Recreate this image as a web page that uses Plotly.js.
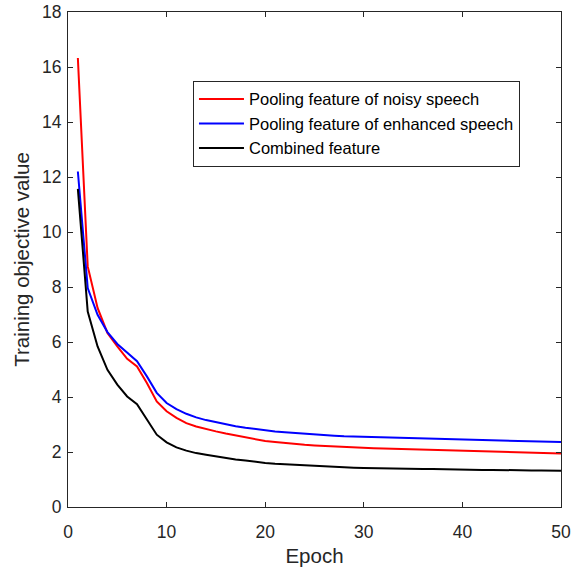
<!DOCTYPE html>
<html><head><meta charset="utf-8">
<script src="https://cdn.plot.ly/plotly-3.0.1.min.js"></script>
<style>body{margin:0;}#chart{width:572px;height:568px;}</style>
</head><body><div id="chart"></div>
<script>
const epochs = Array.from({length:50},(_,i)=>i+1);
const noisy = [16.33,8.75,7.24,6.33,5.84,5.39,5.11,4.51,3.84,3.48,3.24,3.05,2.93,2.83,2.75,2.67,2.60,2.53,2.46,2.40,2.36,2.32,2.29,2.26,2.24,2.22,2.20,2.19,2.17,2.16,2.14,2.13,2.12,2.11,2.09,2.08,2.07,2.05,2.04,2.03,2.02,2.01,2.00,1.99,1.98,1.98,1.97,1.96,1.96,1.95];
const enhanced = [12.2,7.96,6.99,6.36,5.93,5.6,5.3,4.75,4.15,3.78,3.56,3.39,3.26,3.16,3.08,3.01,2.94,2.88,2.83,2.79,2.75,2.72,2.69,2.66,2.63,2.61,2.59,2.57,2.56,2.55,2.53,2.52,2.51,2.50,2.49,2.48,2.47,2.46,2.45,2.44,2.43,2.42,2.41,2.40,2.40,2.39,2.38,2.37,2.37,2.36];
const combined = [11.57,7.11,5.84,4.99,4.45,4.02,3.74,3.17,2.63,2.35,2.17,2.05,1.96,1.90,1.84,1.78,1.73,1.69,1.64,1.60,1.57,1.55,1.53,1.51,1.49,1.47,1.46,1.44,1.43,1.42,1.41,1.40,1.40,1.39,1.39,1.38,1.38,1.37,1.37,1.36,1.36,1.35,1.35,1.34,1.34,1.34,1.33,1.33,1.32,1.32];
const names = ['Pooling feature of noisy speech','Pooling feature of enhanced speech','Combined feature'];
const colors = ['#ff0000','#0000ff','#000000'];
const series = [noisy, enhanced, combined];
const traces = series.map((s,i)=>({x:epochs,y:s,type:'scatter',mode:'lines',name:names[i],line:{color:colors[i],width:2}}));
const axcol = '#262626';
const layout = {
  width:572,height:568,
  margin:{l:68,r:11,t:12,b:61},
  paper_bgcolor:'#fff',plot_bgcolor:'#fff',
  font:{family:'Liberation Sans, Arial, sans-serif',color:axcol,size:17.5},
  showlegend:true,
  legend:{x:0.2535,y:0.861,xanchor:'left',yanchor:'top',bgcolor:'#fff',bordercolor:axcol,borderwidth:1,itemwidth:45,font:{size:16.5,color:'#000'},tracegroupgap:0},
  xaxis:{range:[0,50],tickvals:[0,10,20,30,40,50],ticks:'inside',ticklen:5,tickcolor:axcol,showline:true,linecolor:axcol,linewidth:1,mirror:'ticks',showgrid:false,zeroline:false,automargin:false,
    ticklabelstandoff:9,
    title:{text:'Epoch',font:{size:20.5},standoff:7},tickfont:{size:17.5}},
  yaxis:{range:[0,18],tickvals:[0,2,4,6,8,10,12,14,16,18],ticks:'inside',ticklen:5,tickcolor:axcol,showline:true,linecolor:axcol,linewidth:1,mirror:'ticks',showgrid:false,zeroline:false,automargin:false,
    ticklabelstandoff:2,
    title:{text:'Training objective value',font:{size:20.5},standoff:6},tickfont:{size:17.5}}
};
Plotly.newPlot('chart',traces,layout,{displayModeBar:false,staticPlot:true});
</script></body></html>
